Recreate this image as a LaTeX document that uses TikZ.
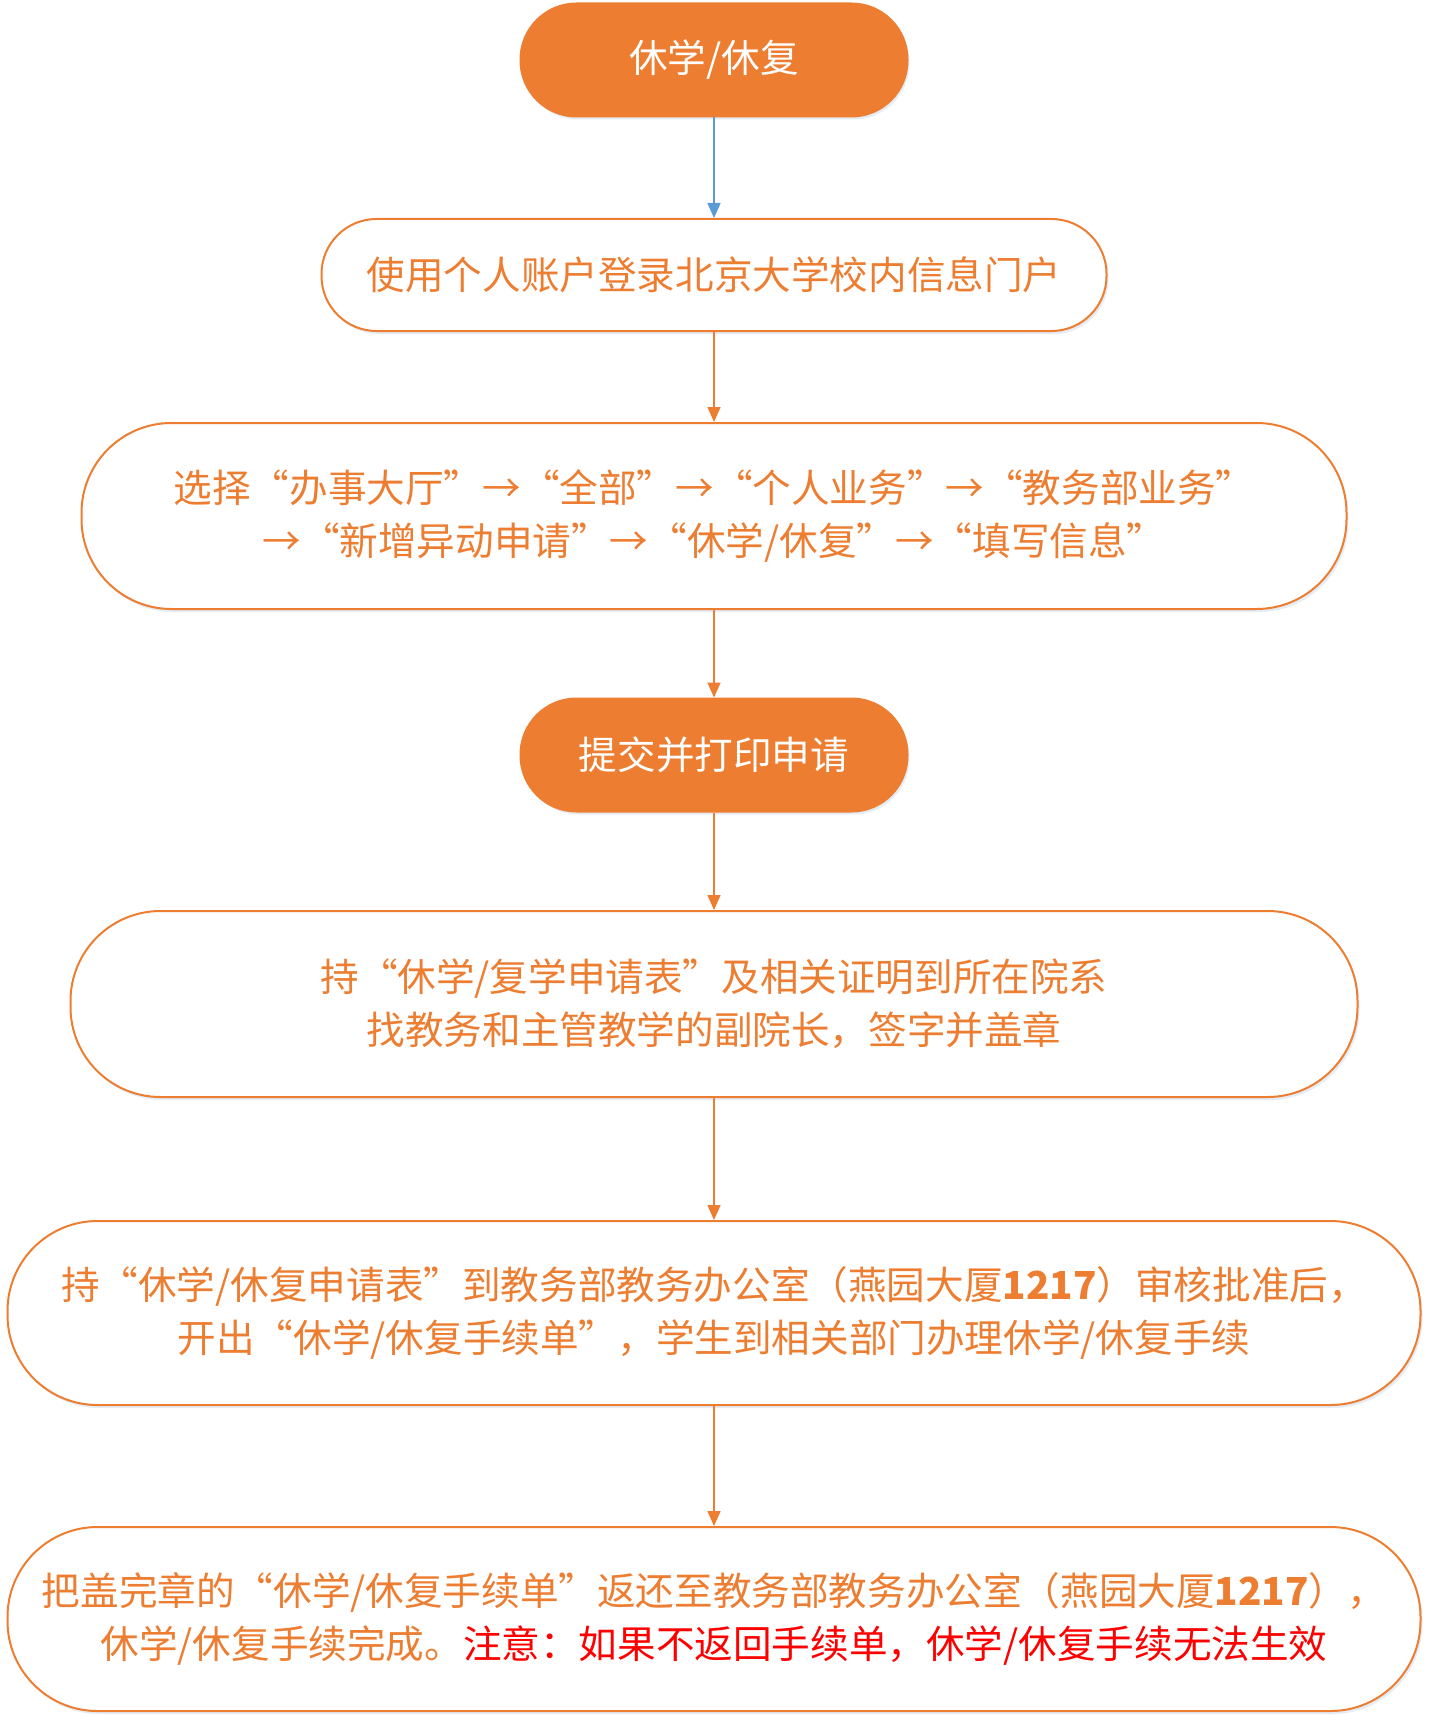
\documentclass[tikz,border=0pt]{standalone}
\usepackage{fontspec}
\setmainfont{Noto Sans CJK SC}
\usetikzlibrary{arrows.meta,shadows}
\definecolor{flowOrange}{HTML}{ED7D31}
\definecolor{flowBlue}{HTML}{5B9BD5}
\definecolor{flowRed}{HTML}{FF0000}
\definecolor{flowShadow}{HTML}{A9BFDC}

\begin{document}
\begin{tikzpicture}[x=0.5pt,y=-0.5pt,
		box/.style={draw=flowOrange,line width=1pt,align=center,inner sep=0pt,font=\fontsize{19.3pt}{26.5pt}\selectfont,drop shadow={shadow xshift=1pt,shadow yshift=-1.5pt,opacity=0.3,fill=flowShadow}},
		solid box/.style={box,fill=flowOrange,text=white,minimum width=193.5pt,minimum height=56.5pt,rounded corners=28pt},
		line box/.style={box,fill=white,text=flowOrange,rounded corners=45pt},
		flow/.style={draw=flowOrange,line width=0.8pt,-{Triangle[length=7.5pt,width=6.5pt]}}]
		\useasboundingbox (0,0) rectangle (1430,1728);
		\node[solid box](start) at (714,60) {休学/休复};
		\node[line box,minimum width=392.5pt,minimum height=56pt,rounded corners=27.5pt](login) at (714,275) {使用个人账户登录北京大学校内信息门户};
		\node[line box,minimum width=632.5pt,minimum height=93pt](select) at (714,516) {选择“办事大厅”→“全部”→“个人业务”→“教务部业务”\\→“新增异动申请”→“休学/休复”→“填写信息”};
		\node[solid box](submit) at (714,755) {提交并打印申请};
		\node[line box,minimum width=643.5pt,minimum height=93pt](hold) at (714,1004) {持“休学/复学申请表”及相关证明到所在院系\\找教务和主管教学的副院长，签字并盖章};
		\node[line box,minimum width=706.5pt,minimum height=92pt](approve) at (714,1313) {持“休学/休复申请表”到教务部教务办公室（燕园大厦\textbf{1217}）审核批准后，\\开出“休学/休复手续单”，学生到相关部门办理休学/休复手续};
		\node[line box,minimum width=706.5pt,minimum height=92pt](return) at (714,1619) {把盖完章的“休学/休复手续单”返还至教务部教务办公室（燕园大厦\textbf{1217}），\\休学/休复手续完成。{\color{flowRed}注意：如果不返回手续单，休学/休复手续无法生效}};
		\draw[flow,draw=flowBlue] (start) -- (login);
		\draw[flow] (login) -- (select);
		\draw[flow] (select) -- (submit);
		\draw[flow] (submit) -- (hold);
		\draw[flow] (hold) -- (approve);
		\draw[flow] (approve) -- (return);
	\end{tikzpicture}
\end{document}
